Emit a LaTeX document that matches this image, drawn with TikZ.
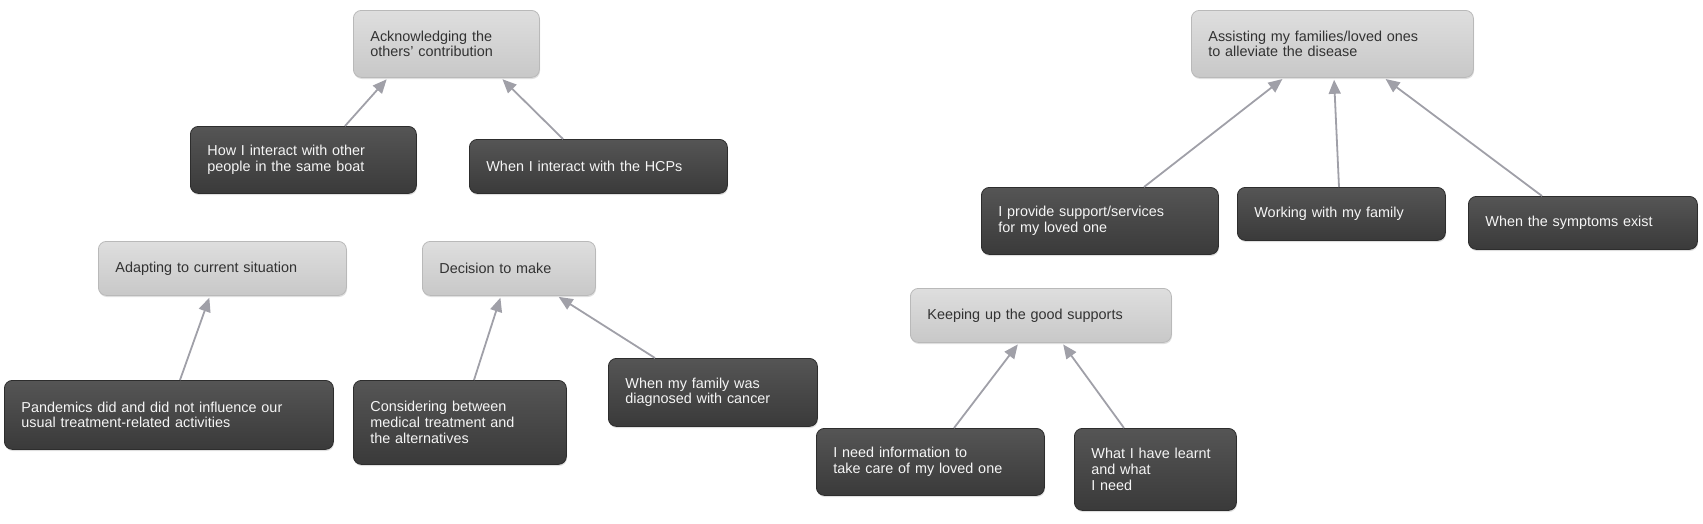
\documentclass[tikz,border=0pt]{standalone}
\usepackage{fontspec}
\setmainfont{Liberation Sans}
\usetikzlibrary{arrows.meta,shadows,calc}
\definecolor{lighttop}{RGB}{222,222,222}
\definecolor{lightbot}{RGB}{200,200,200}
\definecolor{lightdraw}{RGB}{185,185,185}
\definecolor{darktop}{RGB}{85,85,85}
\definecolor{darkbot}{RGB}{58,58,58}
\definecolor{darkdraw}{RGB}{45,45,45}
\definecolor{lighttext}{RGB}{50,50,50}
\definecolor{darktext}{RGB}{245,245,245}
\definecolor{conncol}{RGB}{160,160,168}
\tikzset{
  basebox/.style={rectangle, rounded corners=8pt, anchor=north west, inner xsep=17pt, inner ysep=0pt, align=left,
    font=\fontsize{14.4}{15.7}\selectfont,
    drop shadow={opacity=0.25, shadow xshift=0.6pt, shadow yshift=-1.6pt}},
  lightbox/.style={basebox, draw=lightdraw, line width=0.8pt, top color=lighttop, bottom color=lightbot, text=lighttext},
  darkbox/.style={basebox, draw=darkdraw, line width=0.8pt, top color=darktop, bottom color=darkbot, text=darktext},
  conn/.style={draw=conncol, line width=1.8pt, -{Triangle[width=12pt,length=14pt]}, shorten >=2pt}
}
\begin{document}
\begin{tikzpicture}[x=1pt,y=-1pt]
\useasboundingbox (0,0) rectangle (1703,523);
% left group
\node[lightbox, minimum width=186pt, minimum height=67pt, text width=152pt] (ack) at (353,10) {Acknowledging the\\others' contribution};
\node[darkbox, minimum width=226pt, minimum height=67pt, text width=192pt] (how) at (190,126) {How I interact with other\\people in the same boat};
\node[darkbox, minimum width=258pt, minimum height=54pt, text width=224pt] (hcp) at (469,139) {When I interact with the HCPs};
\node[lightbox, minimum width=248pt, minimum height=54pt, text width=214pt] (adapt) at (98,241) {Adapting to current situation};
\node[lightbox, minimum width=173pt, minimum height=54pt, text width=139pt] (decide) at (422,241) {Decision to make};
\node[darkbox, minimum width=329pt, minimum height=69pt, text width=295pt] (pand) at (4,380) {Pandemics did and did not influence our\\usual treatment-related activities};
\node[darkbox, minimum width=213pt, minimum height=84pt, text width=179pt] (cons) at (353,380) {Considering between\\medical treatment and\\the alternatives};
\node[darkbox, minimum width=209pt, minimum height=68pt, text width=175pt] (fam) at (608,358) {When my family was\\diagnosed with cancer};
% right group
\node[lightbox, minimum width=282pt, minimum height=67pt, text width=248pt] (assist) at (1191,10) {Assisting my families/loved ones\\to alleviate the disease};
\node[darkbox, minimum width=237pt, minimum height=67pt, text width=203pt] (prov) at (981,187) {I provide support/services\\for my loved one};
\node[darkbox, minimum width=208pt, minimum height=53pt, text width=174pt] (work) at (1237,187) {Working with my family};
\node[darkbox, minimum width=229pt, minimum height=53pt, text width=195pt] (symp) at (1468,196) {When the symptoms exist};
\node[lightbox, minimum width=261pt, minimum height=54pt, text width=227pt] (keep) at (910,288) {Keeping up the good supports};
\node[darkbox, minimum width=228pt, minimum height=67pt, text width=194pt] (info) at (816,428) {I need information to\\take care of my loved one};
\node[darkbox, minimum width=162pt, minimum height=82pt, text width=128pt] (learn) at (1074,428) {What I have learnt\\and what\\I need};
% connectors
\draw[conn] ([xshift=155pt]how.north west) -- ([xshift=35pt]ack.south west);
\draw[conn] ([xshift=94pt]hcp.north west) -- ([xshift=148pt]ack.south west);
\draw[conn] ([xshift=176pt]pand.north west) -- ([xshift=112pt]adapt.south west);
\draw[conn] ([xshift=121pt]cons.north west) -- ([xshift=79pt]decide.south west);
\draw[conn] ([xshift=47pt]fam.north west) -- ([xshift=135pt]decide.south west);
\draw[conn] ([xshift=163pt]prov.north west) -- ([xshift=93pt]assist.south west);
\draw[conn] ([xshift=102pt]work.north west) -- ([xshift=143pt]assist.south west);
\draw[conn] ([xshift=74pt]symp.north west) -- ([xshift=193pt]assist.south west);
\draw[conn] ([xshift=138pt]info.north west) -- ([xshift=109pt]keep.south west);
\draw[conn] ([xshift=50pt]learn.north west) -- ([xshift=152pt]keep.south west);
\end{tikzpicture}
\end{document}
